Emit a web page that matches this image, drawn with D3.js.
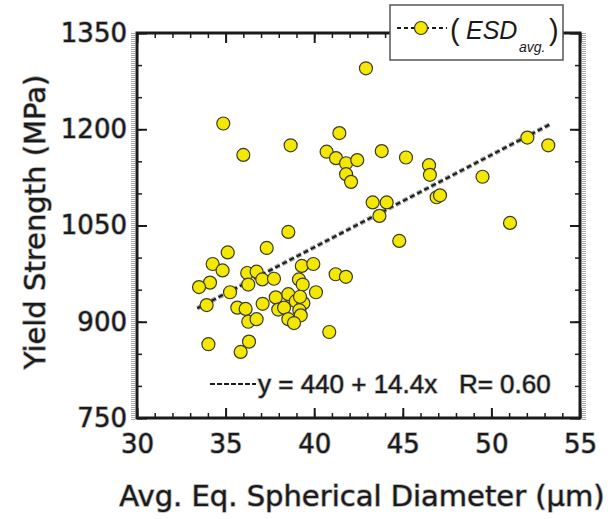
<!DOCTYPE html>
<html><head><meta charset="utf-8">
<script src="https://cdn.jsdelivr.net/npm/d3@7"></script>
<style>
html,body{margin:0;padding:0;background:#fff;}
svg{display:block;}
</style></head>
<body><div id="chart"></div>
<script>
// ---- data ----
const xValues = [34.87,36.0,38.67,41.42,40.7,41.23,41.8,42.43,41.8,42.08,43.81,45.18,46.48,46.53,43.3,44.09,43.68,44.8,38.54,37.32,35.12,34.27,34.83,39.3,39.95,41.21,41.79,36.22,36.75,34.12,33.5,36.28,37.07,37.73,39.14,39.35,35.25,40.1,33.93,35.66,36.13,37.09,37.83,38.54,38.96,39.39,39.2,37.97,38.3,39.16,39.24,36.28,36.75,38.54,38.86,40.85,34.03,36.32,35.85,42.92,49.5,46.91,47.1,52.03,53.21,51.05];
const yValues = [1209,1160,1175,1194,1165,1155,1147,1152,1130,1118,1166,1156,1144,1129,1086,1086,1065,1026,1040,1015,1008,990,980,987,990,974,970,976,978,961,954,958,966,967,966,958,946,946,926,922,920,928,938,943,932,929,939,919,922,918,910,900,904,904,898,884,865,869,853,1295,1126,1094,1097,1187,1175,1054];
const xTicks = [30,35,40,45,50,55];
const xMinorTicks = d3.range(30,55.01,1);
const yTicks = [750,900,1050,1200,1350];
const yMinorTicks = d3.range(750,1350.1,50);
const fitIntercept = 440, fitSlope = 14.4;
const fitRange = [33.4, 53.4];
const xTitle = "Avg. Eq. Spherical Diameter (\u03bcm)";
const yTitle = "Yield Strength (MPa)";
const equationText = "y = 440 + 14.4x   R= 0.60";

// ---- layout ----
const W = 615, H = 519;
const L = 137, R = 580, T = 33, B = 418;
const DV = "DejaVu Sans, sans-serif";
const LS = "Liberation Sans, Arial, sans-serif";
const svg = d3.select("#chart").append("svg").attr("width",W).attr("height",H);

const x = d3.scaleLinear().domain([30,55]).range([L,R]);
const y = d3.scaleLinear().domain([750,1350]).range([B,T]);

const ink = "#1a1a1a";
function halo(sel, w){ return sel.attr("stroke","#b0b0b0").attr("stroke-width",w||1.6).attr("paint-order","stroke").attr("stroke-linejoin","round"); }

// minor ticks
function minorAxis(axis, tr){
  const g = svg.append("g").attr("transform",tr).call(axis);
  g.select(".domain").remove();
  g.selectAll("text").remove();
  g.selectAll("line").attr("stroke",ink).attr("stroke-width",1.5);
  return g;
}
minorAxis(d3.axisBottom(x).tickValues(xMinorTicks).tickSize(-5), `translate(0,${B})`);
minorAxis(d3.axisTop(x).tickValues(xMinorTicks).tickSize(-5), `translate(0,${T})`);
minorAxis(d3.axisLeft(y).tickValues(yMinorTicks).tickSize(-5), `translate(${L},0)`);
minorAxis(d3.axisRight(y).tickValues(yMinorTicks).tickSize(-5), `translate(${R},0)`);

// major ticks with labels
const gx = svg.append("g").attr("transform",`translate(0,${B})`)
  .call(d3.axisBottom(x).tickValues(xTicks).tickFormat(d3.format("d")).tickSize(-10).tickPadding(17));
gx.select(".domain").remove();
gx.selectAll("line").attr("stroke",ink).attr("stroke-width",2);
gx.selectAll("text").attr("font-size",26).attr("font-family",DV).attr("fill",ink).call(halo);

const gxt = svg.append("g").attr("transform",`translate(0,${T})`)
  .call(d3.axisTop(x).tickValues(xTicks).tickSize(-10));
gxt.select(".domain").remove(); gxt.selectAll("text").remove();
gxt.selectAll("line").attr("stroke",ink).attr("stroke-width",2);

const gy = svg.append("g").attr("transform",`translate(${L},0)`)
  .call(d3.axisLeft(y).tickValues(yTicks).tickFormat(d3.format("d")).tickSize(-10).tickPadding(10));
gy.select(".domain").remove();
gy.selectAll("line").attr("stroke",ink).attr("stroke-width",2);
gy.selectAll("text").attr("font-size",26).attr("font-family",DV).attr("fill",ink).call(halo);

const gyr = svg.append("g").attr("transform",`translate(${R},0)`)
  .call(d3.axisRight(y).tickValues(yTicks).tickSize(-10));
gyr.select(".domain").remove(); gyr.selectAll("text").remove();
gyr.selectAll("line").attr("stroke",ink).attr("stroke-width",2);

// frame
svg.append("line").attr("x1",L-4).attr("x2",L-4).attr("y1",T).attr("y2",B+2).attr("stroke","#a8a8a8").attr("stroke-width",4).attr("stroke-dasharray","1,1");
svg.append("line").attr("x1",R+4).attr("x2",R+4).attr("y1",T).attr("y2",B+2).attr("stroke","#a8a8a8").attr("stroke-width",4).attr("stroke-dasharray","1,1");
svg.append("rect").attr("x",L).attr("y",T).attr("width",R-L).attr("height",B-T)
  .attr("fill","none").attr("stroke",ink).attr("stroke-width",3);

// fit line
const line = d3.line().x(d=>x(d)).y(d=>y(fitIntercept+fitSlope*d));
svg.append("path").datum(fitRange).attr("d",line).attr("fill","none")
  .attr("stroke","#9a9a9a").attr("stroke-width",4.5).attr("stroke-dasharray","5,3");
svg.append("path").datum(fitRange).attr("d",line).attr("fill","none")
  .attr("stroke",ink).attr("stroke-width",2).attr("stroke-dasharray","5,3");

// points
const pts = xValues.map((v,i)=>({x:v,y:yValues[i]}));
svg.append("g").selectAll("circle").data(pts).join("circle")
  .attr("cx",d=>x(d.x)).attr("cy",d=>y(d.y)).attr("r",6.5)
  .attr("fill","#f4e800").attr("stroke","#3a3a2a").attr("stroke-width",1.2);

// equation
svg.append("line").attr("x1",210).attr("x2",256).attr("y1",384).attr("y2",384)
  .attr("stroke",ink).attr("stroke-width",2).attr("stroke-dasharray","5,2");
svg.append("text").attr("x",258).attr("y",393).attr("font-family",LS)
  .attr("font-size",26).attr("fill",ink).attr("xml:space","preserve").style("white-space","pre")
  .text(equationText).call(halo);

// axis titles
svg.append("text").attr("x",362).attr("y",506).attr("text-anchor","middle").attr("font-family",DV)
  .attr("font-size",29).attr("fill",ink).text(xTitle).call(halo);
svg.append("text").attr("transform","translate(45,222) rotate(-90)").attr("text-anchor","middle").attr("font-family",DV)
  .attr("font-size",29).attr("fill",ink).text(yTitle).call(halo);

// legend
const lg = svg.append("g");
lg.append("rect").attr("x",390).attr("y",5).attr("width",173).attr("height",55)
  .attr("fill","#fff").attr("stroke","#555").attr("stroke-width",1.5);
lg.append("line").attr("x1",397).attr("x2",447).attr("y1",28).attr("y2",28)
  .attr("stroke",ink).attr("stroke-width",2).attr("stroke-dasharray","4,3");
lg.append("circle").attr("cx",421).attr("cy",28).attr("r",6.5).attr("fill","#f4e800").attr("stroke","#3a3a2a").attr("stroke-width",1.2);
const lt = lg.append("text").attr("font-family",LS).attr("fill",ink);
lt.append("tspan").attr("x",450).attr("y",40).attr("font-size",29).text("(");
lt.append("tspan").attr("x",466).attr("y",39).attr("font-size",25).attr("font-style","italic").text("ESD");
lt.append("tspan").attr("x",519).attr("y",52).attr("font-size",14).attr("font-style","italic").text("avg.");
lt.append("tspan").attr("x",549).attr("y",40).attr("font-size",29).text(")");
</script></body></html>
